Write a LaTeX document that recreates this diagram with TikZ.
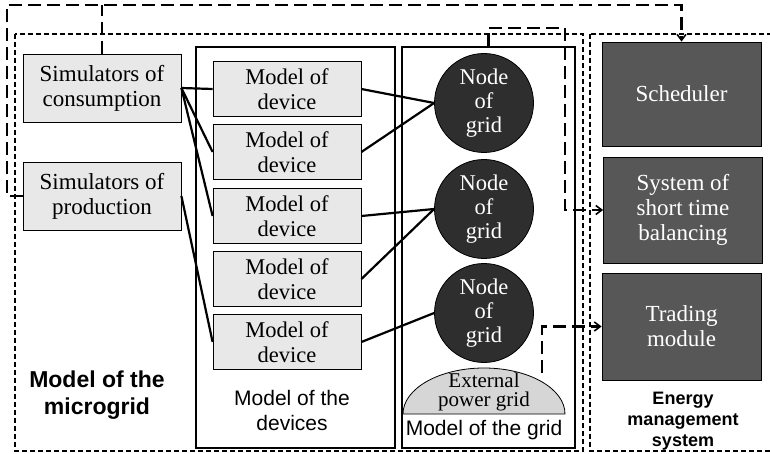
\documentclass[tikz,border=0pt]{standalone}
\usepackage{fontspec}
\setmainfont{Liberation Serif}
\setsansfont{Liberation Sans}
\usetikzlibrary{arrows.meta}

\begin{document}
\begin{tikzpicture}[x=1pt, y=-1pt,
  sim/.style = {draw, fill=black!9, line width=0.8pt, minimum width=158, minimum height=68, align=center, inner sep=1pt, font=\fontsize{23}{25}\selectfont},
  dev/.style = {draw, fill=black!9, line width=0.8pt, minimum width=148, minimum height=55, align=center, inner sep=1pt, font=\fontsize{22.5}{25}\selectfont},
  gnode/.style = {draw, circle, fill=black!82, text=white, line width=0.8pt, minimum size=99, align=center, inner sep=0pt, font=\fontsize{22.5}{24}\selectfont},
  ems/.style = {draw, fill=black!66, text=white, line width=0.8pt, minimum width=159, align=center, inner sep=1pt, font=\fontsize{23}{25}\selectfont},
  holder/.style = {draw, line width=1.6pt, inner sep=0pt},
  area/.style = {draw, line width=1.4pt, dash pattern=on 5pt off 3pt},
  link/.style = {line width=2.2pt},
  signal/.style = {line width=2.2pt, dash pattern=on 13pt off 6pt},
  tip/.style = {-{Straight Barb[length=6pt, width=9pt, line width=1.6pt]}},
  caption/.style = {align=center, font=\sffamily\fontsize{21}{25}\selectfont}]

\useasboundingbox (0,0) rectangle (770,454);

%% dashed areas
\draw[area] (15,34) rectangle (583,451);
\draw[area] (590,34) rectangle (780,451);

%% containers
\node[holder, minimum width=199, minimum height=401] (devbox) at (295.5,247.5) {};
\node[holder, minimum width=173, minimum height=401] (gridbox) at (488.5,247.5) {};

%% simulators
\node[sim] (cons) at (102,88) {Simulators of\\consumption};
\node[sim] (prod) at (102,196) {Simulators of\\production};

%% devices
\node[dev] (d1) at (287,89) {Model of\\device};
\node[dev] (d2) at (287,152) {Model of\\device};
\node[dev] (d3) at (287,216) {Model of\\device};
\node[dev] (d4) at (287,279) {Model of\\device};
\node[dev] (d5) at (287,342) {Model of\\device};

%% grid nodes
\node[gnode] (g1) at (484,103) {Node\\of\\grid};
\node[gnode] (g2) at (484,209) {Node\\of\\grid};
\node[gnode] (g3) at (484,313) {Node\\of\\grid};

%% external grid
\draw[fill=black!16, line width=0.8pt] (403,414) arc (180:0:81pt and 46pt) -- cycle;
\node[align=center, inner sep=0pt, font=\fontsize{21}{19}\selectfont] (ext) at (484,392) {External\\power grid};

%% energy management system
\node[ems, minimum height=104] (sched) at (681.5,94) {Scheduler};
\node[ems, minimum height=106] (bal) at (683,210) {System of\\short time\\balancing};
\node[ems, minimum height=107] (trade) at (681.5,326.5) {Trading\\module};

%% captions
\node[caption] (capdev) at (292,410) {Model of the\\devices};
\node[caption] (capgrid) at (484,430) {Model of the grid};
\node[caption, font=\sffamily\bfseries\fontsize{23}{27}\selectfont] (capmg) at (97,395) {Model of the\\microgrid};
\node[caption, font=\sffamily\bfseries\fontsize{18}{21}\selectfont] (capems) at (683,421) {Energy\\management\\system};

%% links
\draw[link] (cons.east) -- (d1.west);
\draw[link] (cons.east) -- (d2.west);
\draw[link] (cons.east) -- (d3.west);
\draw[link] (prod.east) -- (d5.west);
\draw[link] (d1.east) -- (g1.west);
\draw[link] (d2.east) -- (g1.west);
\draw[link] (d3.east) -- (g2.west);
\draw[link] (d4.east) -- (g2.west);
\draw[link] (d5.east) -- (g3.west);

%% signals
\coordinate (bus) at (7,5);
\coordinate (turn) at (565,28);
\coordinate (extout) at (542,373);
\draw[signal, tip] (prod.west) -| (bus) -| (sched.north);
\draw[signal] (cons.north) -- (cons.north |- bus);
\draw[signal, tip] (gridbox.north) |- (turn) |- (bal.west);
\draw[signal, tip] (extout) |- (trade.west);

\end{tikzpicture}
\end{document}
